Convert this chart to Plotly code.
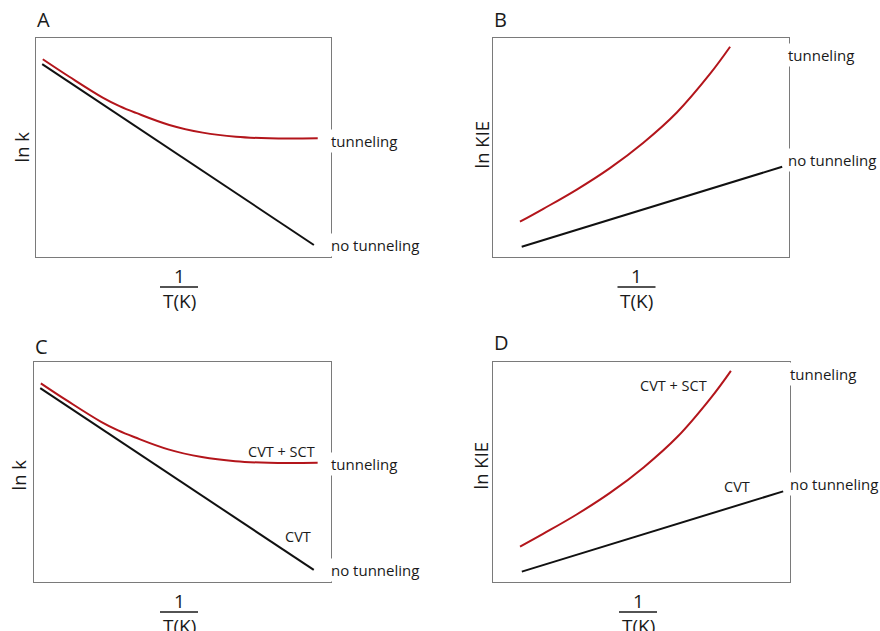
import plotly.graph_objects as go

# ---------------- data (arbitrary units, 0-100 scale) ----------------
# Panels A and C: ln k vs 1/T
inv_T_rate = [2.3, 11.3, 22.6, 28.3, 33.9, 45.2, 56.5, 67.8, 79.1, 95.5]
lnk_tunneling = [90.3, 82.3, 72.8, 68.9, 65.8, 60.3, 56.8, 54.9, 54.2, 54.2]
inv_T_rate_lin = [2.1, 94.2]
lnk_no_tunneling = [88.1, 5.5]

# Panels B and D: ln KIE vs 1/T
inv_T_kie = [9.1, 17.0, 28.3, 39.5, 50.8, 62.1, 73.3, 80.1]
lnkie_tunneling = [16.1, 22.0, 30.8, 40.6, 52.2, 66.0, 83.6, 96.0]
inv_T_kie_lin = [9.7, 97.7]
lnkie_no_tunneling = [4.7, 41.2]

panel_letters = ["A", "B", "C", "D"]
y_titles = ["ln k", "ln KIE", "ln k", "ln KIE"]
x_title_num = "1"
x_title_den = "T(K)"

W, H = 880, 631
RED = "#b3151b"
BLACK = "#111111"
FONT = "Open Sans"
TXT = "#1a1a1a"


def px(x):
    return x / W


def py(y):
    return 1 - y / H


# panel boxes in pixels: (left, top, right, bottom)
boxes = [(36, 38, 331, 257), (493, 38, 789, 257), (34, 362, 331, 582), (493, 362, 790, 582)]

fig = go.Figure()
layout = dict(
    width=W, height=H, margin=dict(l=0, r=0, t=0, b=0),
    paper_bgcolor="white", plot_bgcolor="white", showlegend=False,
    font=dict(family=FONT, color=TXT),
)

for i, (l, t, r, b) in enumerate(boxes):
    n = "" if i == 0 else str(i + 1)
    common = dict(range=[0, 100], showgrid=False, zeroline=False, showticklabels=False,
                  ticks="", showline=True, linecolor="#7a7a7a", linewidth=1.3, mirror=True,
                  fixedrange=True)
    layout["xaxis" + n] = dict(domain=[px(l), px(r)], anchor="y" + n, **common)
    layout["yaxis" + n] = dict(domain=[py(b), py(t)], anchor="x" + n, **common)

fig.update_layout(**layout)

for i in range(4):
    n = "" if i == 0 else str(i + 1)
    if i in (0, 2):
        xs_c, ys_c, xs_l, ys_l = inv_T_rate, lnk_tunneling, inv_T_rate_lin, lnk_no_tunneling
    else:
        xs_c, ys_c, xs_l, ys_l = inv_T_kie, lnkie_tunneling, inv_T_kie_lin, lnkie_no_tunneling
    fig.add_trace(go.Scatter(x=xs_l, y=ys_l, mode="lines", line=dict(color=BLACK, width=2),
                             xaxis="x" + n, yaxis="y" + n, hoverinfo="skip"))
    fig.add_trace(go.Scatter(x=xs_c, y=ys_c, mode="lines",
                             line=dict(color=RED, width=2, shape="spline", smoothing=1.1),
                             xaxis="x" + n, yaxis="y" + n, hoverinfo="skip"))

ann = []


def label(text, xd, yv, n, anchor="left", size=15, bg=True):
    ann.append(dict(text=text, x=xd, y=yv, xref="x" + n + " domain", yref="y" + n,
                    xanchor=anchor, yanchor="middle", showarrow=False,
                    font=dict(size=size, family=FONT, color=TXT),
                    bgcolor="white" if bg else None, borderpad=1))


# Panel A
label("tunneling", 0.993, 53.0, "")
label("no tunneling", 0.993, 5.5, "")
# Panel B
label("tunneling", 0.99, 92.2, "2")
label("no tunneling", 0.99, 44.3, "2")
# Panel C
label("CVT + SCT", 0.834, 59.5, "3", anchor="center", size=14.5, bg=False)
label("tunneling", 0.993, 53.6, "3")
label("CVT", 0.888, 20.6, "3", anchor="center", size=14.5, bg=False)
label("no tunneling", 0.993, 5.5, "3")
# Panel D
label("CVT + SCT", 0.607, 89.1, "4", anchor="center", size=14.5, bg=False)
label("tunneling", 0.993, 94.5, "4")
label("CVT", 0.821, 43.3, "4", anchor="center", size=14.5, bg=False)
label("no tunneling", 0.993, 44.6, "4")

# panel letters
letter_pos = [(35, 20), (492, 20), (33, 346), (492, 342)]
for letter, (x, y) in zip(panel_letters, letter_pos):
    ann.append(dict(text=letter, x=px(x), y=py(y), xref="paper", yref="paper",
                    xanchor="left", yanchor="middle", showarrow=False,
                    font=dict(size=20, family=FONT, color=TXT)))

# y titles
ytitle_pos = [(20.5, 147), (480.5, 145), (17.5, 475), (479.5, 466)]
for t, (x, y) in zip(y_titles, ytitle_pos):
    ann.append(dict(text=t, x=px(x), y=py(y), xref="paper", yref="paper",
                    xanchor="center", yanchor="middle", textangle=-90, showarrow=False,
                    font=dict(size=18.5, family=FONT, color=TXT)))

# x titles as fractions
xtitle_pos = [(179, 287), (636.5, 287), (179, 612), (638, 612)]
shapes = []
for (x, y) in xtitle_pos:
    ann.append(dict(text=x_title_num, x=px(x), y=py(y - 11), xref="paper", yref="paper",
                    xanchor="center", yanchor="middle", showarrow=False,
                    font=dict(size=19, family=FONT, color=TXT)))
    ann.append(dict(text=x_title_den, x=px(x), y=py(y + 14), xref="paper", yref="paper",
                    xanchor="center", yanchor="middle", showarrow=False,
                    font=dict(size=19, family=FONT, color=TXT)))
    shapes.append(dict(type="line", xref="paper", yref="paper",
                       x0=px(x - 19), x1=px(x + 19), y0=py(y), y1=py(y),
                       line=dict(color=TXT, width=1.5)))

fig.update_layout(annotations=ann, shapes=shapes)
fig.write_html("out.html", config={"displayModeBar": False},
               post_script="document.body.style.margin='0';document.body.style.overflow='hidden';")
